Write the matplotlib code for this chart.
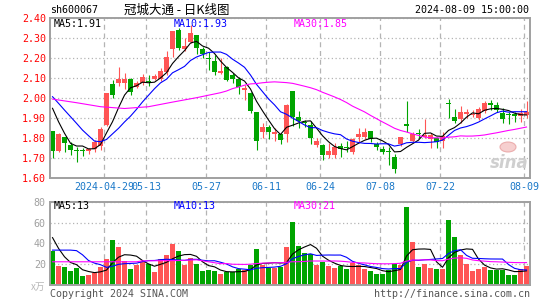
"""
冠城大通 (sh600067) daily K-line with MA5/10/30 and volume panel.
"""
import matplotlib
matplotlib.use("Agg")
import matplotlib.pyplot as plt
from matplotlib.patches import Ellipse
import numpy as np
import pandas as pd

plt.rcParams["font.family"] = ["DejaVu Sans Mono", "Noto Sans CJK SC"]

# 80 trading days, 2024-04-16 .. 2024-08-09
opens = [1.833, 1.733, 1.803, 1.763, 1.735, 1.735, 1.733, 1.743, 1.760, 1.863,
         2.067, 2.073, 2.073, 2.093, 2.053, 2.073, 2.085, 2.093, 2.093, 2.130,
         2.243, 2.338, 2.243, 2.280, 2.313, 2.243, 2.195, 2.183, 2.123, 2.155,
         2.113, 2.093, 2.037, 2.023, 1.927, 1.827, 1.853, 1.820, 1.817, 1.817,
         2.033, 1.905, 1.877, 1.863, 1.763, 1.763, 1.713, 1.713, 1.757, 1.752,
         1.727, 1.805, 1.805, 1.833, 1.767, 1.743, 1.730, 1.705, 1.770, 1.867,
         1.783, 1.822, 1.805, 1.793, 1.797, 1.783, 1.972, 1.905, 1.893, 1.917,
         1.913, 1.897, 1.933, 1.972, 1.963, 1.925, 1.918, 1.920, 1.910, 1.913]
highs = [1.835, 1.825, 1.805, 1.777, 1.755, 1.750, 1.750, 1.787, 1.853, 2.025,
         2.088, 2.152, 2.122, 2.100, 2.083, 2.120, 2.113, 2.117, 2.147, 2.235,
         2.335, 2.347, 2.297, 2.365, 2.313, 2.255, 2.227, 2.213, 2.197, 2.160,
         2.122, 2.103, 2.063, 2.027, 1.930, 1.872, 1.863, 1.847, 1.820, 1.967,
         2.035, 1.933, 1.888, 1.883, 1.797, 1.767, 1.772, 1.772, 1.772, 1.783,
         1.800, 1.847, 1.847, 1.833, 1.780, 1.760, 1.755, 1.717, 1.805, 1.983,
         1.830, 1.843, 1.893, 1.822, 1.805, 1.830, 1.993, 1.943, 1.960, 1.943,
         1.938, 1.955, 1.983, 1.988, 1.977, 1.950, 1.927, 1.930, 1.942, 1.983]
lows = [1.700, 1.727, 1.727, 1.713, 1.680, 1.707, 1.720, 1.730, 1.738, 1.860,
        2.000, 2.057, 2.043, 2.013, 2.047, 2.063, 2.057, 2.087, 2.083, 2.113,
        2.205, 2.238, 2.233, 2.272, 2.217, 2.197, 2.138, 2.113, 2.117, 2.083,
        2.072, 2.017, 1.988, 1.922, 1.738, 1.797, 1.793, 1.783, 1.770, 1.780,
        1.860, 1.847, 1.855, 1.767, 1.755, 1.688, 1.700, 1.700, 1.705, 1.727,
        1.717, 1.780, 1.793, 1.780, 1.738, 1.717, 1.663, 1.622, 1.760, 1.827,
        1.780, 1.800, 1.797, 1.750, 1.750, 1.750, 1.900, 1.872, 1.872, 1.897,
        1.905, 1.888, 1.922, 1.938, 1.927, 1.872, 1.867, 1.877, 1.877, 1.897]
closes = [1.733, 1.817, 1.773, 1.737, 1.732, 1.733, 1.745, 1.777, 1.843, 2.022,
          2.013, 2.093, 2.093, 2.027, 2.073, 2.103, 2.078, 2.107, 2.133, 2.205,
          2.333, 2.247, 2.260, 2.322, 2.247, 2.217, 2.192, 2.127, 2.133, 2.088,
          2.093, 2.055, 2.047, 1.933, 1.783, 1.853, 1.827, 1.830, 1.787, 1.963,
          1.905, 1.883, 1.873, 1.797, 1.783, 1.713, 1.733, 1.755, 1.745, 1.750,
          1.793, 1.817, 1.830, 1.793, 1.755, 1.727, 1.727, 1.643, 1.803, 1.858,
          1.817, 1.818, 1.813, 1.813, 1.780, 1.810, 1.967, 1.883, 1.927, 1.927,
          1.917, 1.943, 1.972, 1.963, 1.938, 1.893, 1.913, 1.907, 1.925, 1.930]
# volume, 万手
volumes = [32.9, 18.1, 17.1, 13.2, 16.5, 8.4, 9.7, 11.6, 17.1, 24.8,
           43.5, 36.5, 23.5, 15.5, 19.4, 22.6, 20.3, 12.3, 24.8, 29.0,
           39.7, 32.9, 19.4, 25.8, 20.0, 13.5, 14.5, 13.5, 10.3, 12.3,
           12.3, 15.5, 14.5, 19.4, 34.8, 19.4, 16.8, 16.8, 17.7, 36.8,
           60.3, 37.4, 30.3, 29.4, 19.0, 22.3, 18.1, 16.1, 18.1, 15.2,
           21.3, 19.0, 15.2, 13.2, 10.3, 11.0, 14.2, 20.0, 19.0, 74.8,
           41.3, 17.4, 20.6, 16.8, 15.2, 15.2, 62.6, 46.5, 28.4, 20.6,
           13.2, 15.8, 17.7, 14.8, 14.8, 14.8, 10.0, 10.0, 15.2, 18.1]

tick_pos = [9, 16, 26, 36, 45, 55, 65, 79]
tick_labels = ["2024-04-29", "05-13", "05-27", "06-11", "06-24", "07-08", "07-22", "08-09"]

# MA values on the left edge, where the history is off screen
ma5_head_x = [0, 1, 2, 3]
ma5_head = [1.947, 1.880, 1.822, 1.772]
ma10_head_x = [0, 1, 2, 3, 4, 5, 6, 7, 8]
ma10_head = [2.005, 1.972, 1.938, 1.905, 1.872, 1.838, 1.810, 1.783, 1.780]
ma30_head_x = [0, 4, 8, 12, 16, 20, 24, 28]
ma30_head = [1.993, 1.975, 1.955, 1.946, 1.955, 1.978, 2.000, 2.025]
vma5_head = [45.5, 35.2, 27.1, 21.6]
vma10_head = [33.5, 33.5, 33.5, 33.5, 33.0, 29.0, 23.5, 21.0, 19.5]
vma30_head_x = [0, 14, 15, 21, 24, 26, 28]
vma30_head = [22.3, 22.3, 23.2, 23.5, 24.2, 22.3, 20.5]

UP = "#ff5555"
DOWN = "#00a400"
FRAME = "#a0a0a0"
GRID = "#b4b4b4"
MA_COLORS = {"ma5": "#000000", "ma10": "#0000ff", "ma30": "#ff00ff"}
W, H = 545, 300


def ma_line(values, window, head_x, head_y):
    rolled = pd.Series(values).rolling(window).mean()
    x = list(head_x) + list(range(window - 1, len(values)))
    y = list(head_y) + list(rolled.iloc[window - 1:])
    return x, y


def px_axes(fig, left, top, right, bottom):
    return fig.add_axes([left / W, 1 - bottom / H, (right - left) / W, (bottom - top) / H])


def style_axes(ax):
    for s in ax.spines.values():
        s.set_color(FRAME)
        s.set_linewidth(1.4)
    ax.set_xlim(-0.42, 79.58)
    ax.set_xticks(np.array(tick_pos) - 0.37)
    ax.tick_params(length=0)
    ax.grid(True, axis="y", color=GRID, linestyle=(0, (1, 2)), linewidth=0.9)
    ax.grid(True, axis="x", color=GRID, linestyle=(0, (4, 3)), linewidth=0.9)
    ax.set_axisbelow(True)


fig = plt.figure(figsize=(W / 100, H / 100), dpi=100)
ax = px_axes(fig, 50, 17.7, 530, 177.7)
axv = px_axes(fig, 50, 201.7, 530, 285)

idx = np.arange(len(closes))
o, h, l, c = (np.array(a) for a in (opens, highs, lows, closes))
colors = np.where(c >= o, UP, DOWN)

# candles
ax.vlines(idx, l, h, colors=colors, linewidth=0.8, zorder=2)
body = np.maximum(np.abs(c - o), 0.005)
ax.bar(idx, body, bottom=np.minimum(o, c), width=0.8, color=colors, linewidth=0, zorder=2)
for key, win, hx, hy in (("ma5", 5, ma5_head_x, ma5_head),
                         ("ma10", 10, ma10_head_x, ma10_head),
                         ("ma30", 30, ma30_head_x, ma30_head)):
    x, y = ma_line(closes, win, hx, hy)
    ax.plot(x, y, color=MA_COLORS[key], linewidth=0.8, zorder=3)

style_axes(ax)
ax.set_ylim(1.60, 2.40)
ax.set_yticks(np.arange(1.60, 2.401, 0.10))
ax.set_yticklabels([f"{v:.2f}" for v in np.arange(1.60, 2.401, 0.10)], fontsize=7.2, color="#ff0000")
ax.tick_params(axis="y", pad=3)
ax.set_xticklabels(tick_labels, fontsize=7.2, color="#1a78c8")
ax.tick_params(axis="x", pad=3)

# volume
axv.bar(idx, volumes, width=0.8, color=colors, linewidth=0, zorder=2)
axv.plot(*ma_line(volumes, 5, range(4), vma5_head), color=MA_COLORS["ma5"], linewidth=0.8, zorder=3)
axv.plot(*ma_line(volumes, 10, range(9), vma10_head), color=MA_COLORS["ma10"], linewidth=0.8, zorder=3)
axv.plot(*ma_line(volumes, 30, vma30_head_x, vma30_head), color=MA_COLORS["ma30"], linewidth=0.8, zorder=3)
style_axes(axv)
axv.set_ylim(0, 80)
axv.set_yticks([0, 20, 40, 60, 80])
axv.set_yticklabels(["", "20", "40", "60", "80"], fontsize=7.2, color=FRAME)
axv.tick_params(axis="y", pad=3)
axv.set_xticklabels([])


def ftext(x, y, s, **kw):
    kw.setdefault("fontsize", 7.2)
    kw.setdefault("va", "center")
    fig.text(x / W, 1 - y / H, s, **kw)


ftext(50, 10, "sh600067", color="black")
ftext(177, 10, "冠城大通 - 日K线图", ha="center", fontsize=9, family=["Noto Sans CJK SC", "DejaVu Sans"])
ftext(529, 10, "2024-08-09 15:00:00", ha="right", color="black")

ftext(54, 24, "MA5:1.91", color=MA_COLORS["ma5"])
ftext(174, 24, "MA10:1.93", color=MA_COLORS["ma10"])
ftext(294, 24, "MA30:1.85", color=MA_COLORS["ma30"])
ftext(54, 206, "MA5:13", color=MA_COLORS["ma5"])
ftext(174, 206, "MA10:13", color=MA_COLORS["ma10"])
ftext(294, 206, "MA30:21", color=MA_COLORS["ma30"])

ftext(45, 287, "x万", ha="right", color="#b8b8b8", fontsize=7, family=["Noto Sans CJK SC", "DejaVu Sans"])
ftext(50, 294, "Copyright 2024 SINA.COM", color="#555555")
ftext(530, 294, "http://finance.sina.com.cn", ha="right", color="#555555")

# sina watermark
fig.patches.append(Ellipse((508 / W, 1 - 147 / H), 16 / W, 10 / H, transform=fig.transFigure,
                           facecolor="#f4c4c4", edgecolor="#e8a0a0", linewidth=0.8, alpha=0.8))
ftext(509, 163, "sina", ha="center", color="#cfcfcf", fontsize=12, fontweight="bold",
      style="italic", family="DejaVu Sans")

fig.savefig("out.png", dpi=100)
